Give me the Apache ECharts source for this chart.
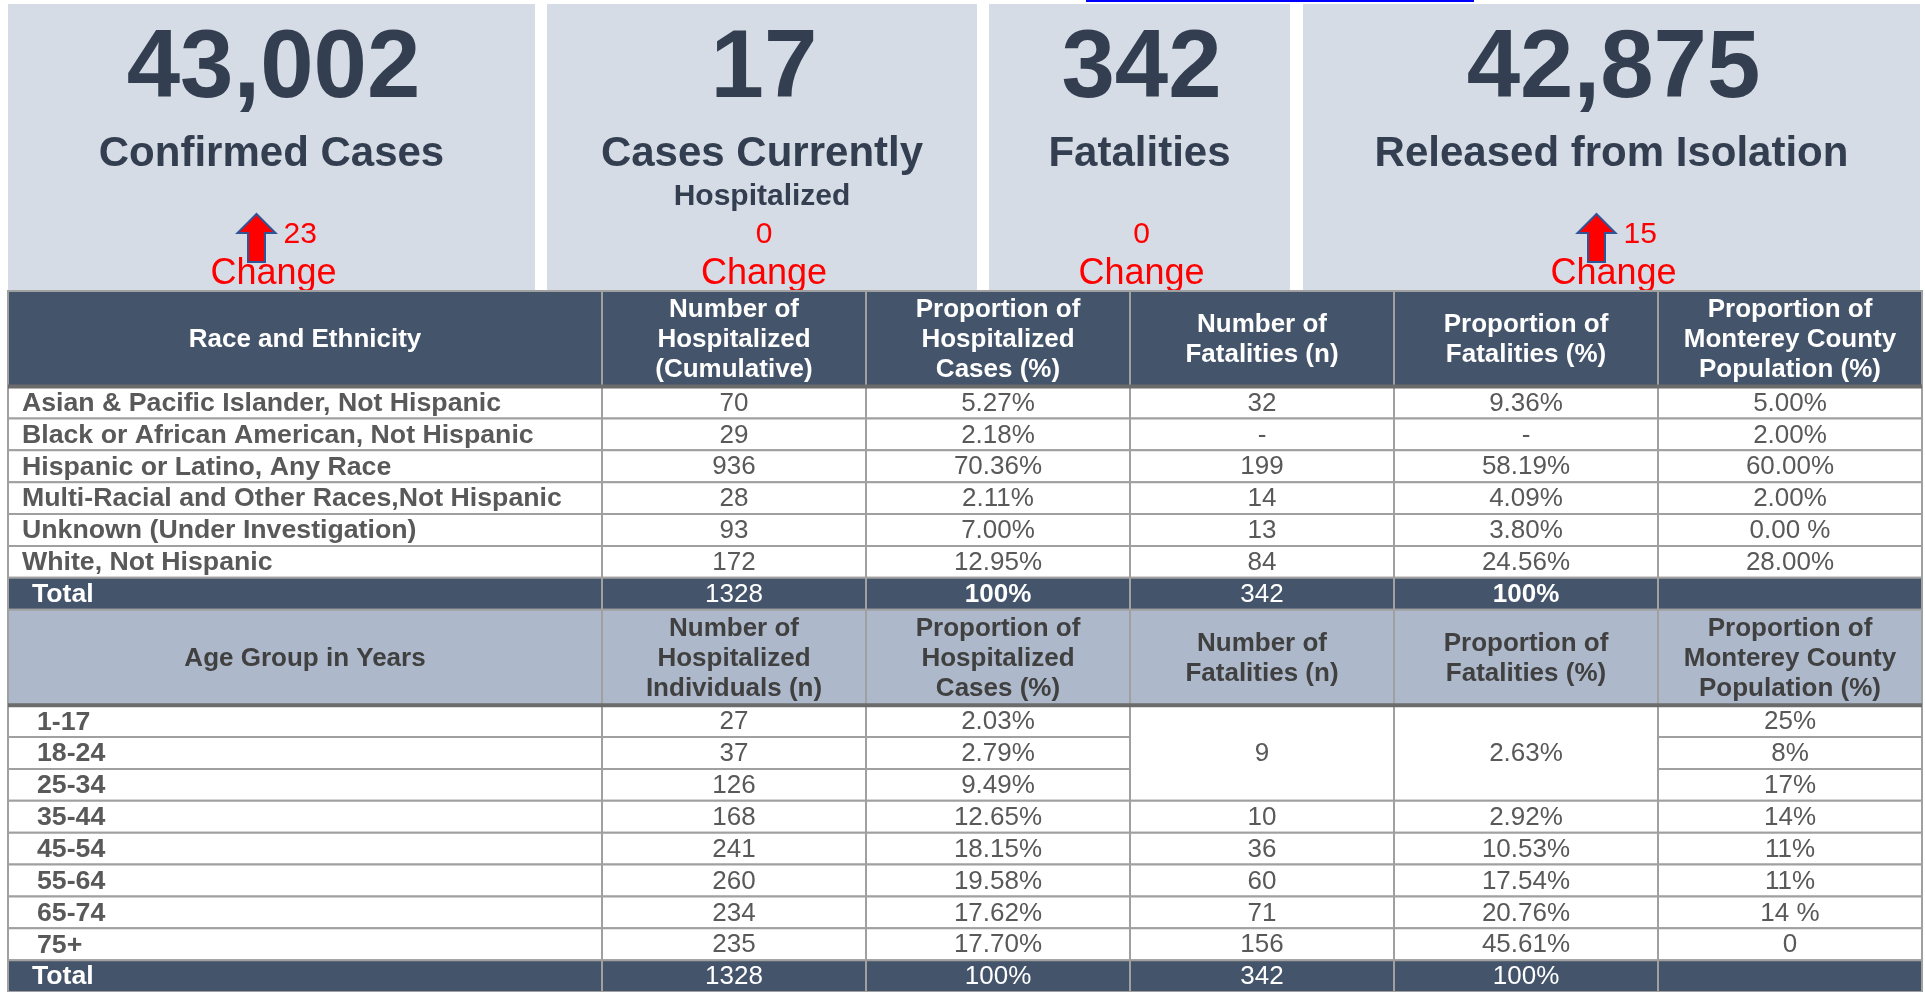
<!DOCTYPE html>
<html><head><meta charset="utf-8">
<script src="https://cdn.jsdelivr.net/npm/echarts@6/dist/echarts.min.js"></script>
<style>html,body{margin:0;padding:0;background:#fff;overflow:hidden}#c{width:1925px;height:992px;}</style>
</head><body><div id="c"></div>
<script>
// ---------- data ----------
const cardValues = ['43,002', '17', '342', '42,875'];
const cardTitles = ['Confirmed Cases', 'Cases Currently', 'Fatalities', 'Released from Isolation'];
const cardSubtitles = ['', 'Hospitalized', '', ''];
const cardChanges = [23, 0, 0, 15];
const cardChangeUp = [true, false, false, true];
const changeLabel = 'Change';

const raceHeaders = ['Race and Ethnicity', 'Number of\nHospitalized\n(Cumulative)', 'Proportion of\nHospitalized\nCases (%)', 'Number of\nFatalities (n)', 'Proportion of\nFatalities (%)', 'Proportion of\nMonterey County\nPopulation (%)'];
const raceCategories = ['Asian & Pacific Islander, Not Hispanic', 'Black or African American, Not Hispanic', 'Hispanic or Latino, Any Race', 'Multi-Racial and Other Races,Not Hispanic', 'Unknown (Under Investigation)', 'White, Not Hispanic'];
const raceHosp = ['70', '29', '936', '28', '93', '172'];
const raceHospPct = ['5.27%', '2.18%', '70.36%', '2.11%', '7.00%', '12.95%'];
const raceFat = ['32', '-', '199', '14', '13', '84'];
const raceFatPct = ['9.36%', '-', '58.19%', '4.09%', '3.80%', '24.56%'];
const racePopPct = ['5.00%', '2.00%', '60.00%', '2.00%', '0.00 %', '28.00%'];
const raceTotals = ['Total', '1328', '100%', '342', '100%', ''];

const ageHeaders = ['Age Group in Years', 'Number of\nHospitalized\nIndividuals (n)', 'Proportion of\nHospitalized\nCases (%)', 'Number of\nFatalities (n)', 'Proportion of\nFatalities (%)', 'Proportion of\nMonterey County\nPopulation (%)'];
const ageCategories = ['1-17', '18-24', '25-34', '35-44', '45-54', '55-64', '65-74', '75+'];
const ageHosp = ['27', '37', '126', '168', '241', '260', '234', '235'];
const ageHospPct = ['2.03%', '2.79%', '9.49%', '12.65%', '18.15%', '19.58%', '17.62%', '17.70%'];
const ageFat = ['9', null, null, '10', '36', '60', '71', '156'];
const ageFatPct = ['2.63%', null, null, '2.92%', '10.53%', '17.54%', '20.76%', '45.61%'];
const ageFatSpan = [3, 0, 0, 1, 1, 1, 1, 1];
const agePopPct = ['25%', '8%', '17%', '14%', '11%', '11%', '14 %', '0'];
const ageTotals = ['Total', '1328', '100%', '342', '100%', ''];

// ---------- layout ----------
const colEdges = [0, 2.25, 3.25, 4.25, 5.25, 6.25, 7.25];
const CARD_EDGES = [[8, 535], [547, 977], [989, 1290], [1303, 1920]];
const FONT = 'Liberation Sans, Arial, sans-serif';

const STYLES = {
  hdrDark:  {fill: '#44546a', color: '#ffffff', weight: 'bold', align: 'center', size: 26},
  hdrLight: {fill: '#adb9ca', color: '#404040', weight: 'bold', align: 'center', size: 26},
  label:    {fill: '#ffffff', color: '#595959', weight: 'bold', align: 'left', size: 26.7},
  num:      {fill: '#ffffff', color: '#595959', weight: 'normal', align: 'center', size: 26},
  totLabel: {fill: '#44546a', color: '#ffffff', weight: 'bold', align: 'left', size: 26.7},
  totNum:   {fill: '#44546a', color: '#ffffff', weight: 'normal', align: 'center', size: 26},
  totBold:  {fill: '#44546a', color: '#ffffff', weight: 'bold', align: 'center', size: 26}
};

const cells = [];
function cell(c0, c1, r0, r1, text, kind, pad) {
  cells.push({x0: colEdges[c0], x1: colEdges[c1], y0: r0, y1: r1, text: text, kind: kind, pad: pad || 0});
}
// race block
raceHeaders.forEach((t, j) => cell(j, j + 1, 0, 3, t, 'hdrDark'));
raceCategories.forEach((name, i) => {
  const r = 3 + i;
  cell(0, 1, r, r + 1, name, 'label', 14);
  [raceHosp, raceHospPct, raceFat, raceFatPct, racePopPct].forEach((arr, j) => cell(j + 1, j + 2, r, r + 1, arr[i], 'num'));
});
raceTotals.forEach((t, j) => cell(j, j + 1, 9, 10, t, j === 0 ? 'totLabel' : (j === 2 || j === 4 ? 'totBold' : 'totNum'), 24));
// age block
ageHeaders.forEach((t, j) => cell(j, j + 1, 10, 13, t, 'hdrLight'));
ageCategories.forEach((name, i) => {
  const r = 13 + i;
  cell(0, 1, r, r + 1, name, 'label', 29);
  cell(1, 2, r, r + 1, ageHosp[i], 'num');
  cell(2, 3, r, r + 1, ageHospPct[i], 'num');
  if (ageFatSpan[i] > 0) {
    cell(3, 4, r, r + ageFatSpan[i], ageFat[i], 'num');
    cell(4, 5, r, r + ageFatSpan[i], ageFatPct[i], 'num');
  }
  cell(5, 6, r, r + 1, agePopPct[i], 'num');
});
ageTotals.forEach((t, j) => cell(j, j + 1, 21, 22, t, j === 0 ? 'totLabel' : 'totNum', 24));
// heavy rules under headers
cells.push({x0: 0, x1: 7.25, y0: 3, y1: 3, kind: 'rule'});
cells.push({x0: 0, x1: 7.25, y0: 13, y1: 13, kind: 'rule'});

function renderCell(params, api) {
  const c = cells[params.dataIndex];
  const a = api.coord([c.x0, c.y0]);
  const b = api.coord([c.x1, c.y1]);
  if (c.kind === 'rule') {
    return {type: 'line', shape: {x1: a[0], y1: a[1], x2: b[0], y2: a[1]}, style: {stroke: '#6b6b6b', lineWidth: 4}};
  }
  const s = STYLES[c.kind];
  const x = a[0], y = a[1], w = b[0] - a[0], h = b[1] - a[1];
  const children = [{type: 'rect', shape: {x: x, y: y, width: w, height: h}, style: {fill: s.fill, stroke: '#a0a0a0', lineWidth: 2}}];
  if (c.text) {
    children.push({type: 'text', style: {
      text: c.text, x: s.align === 'left' ? x + c.pad : x + w / 2, y: y + h / 2 + 1,
      align: s.align, verticalAlign: 'middle', fontSize: s.size, fontWeight: s.weight,
      fontFamily: FONT, fill: s.color, lineHeight: 30
    }});
  }
  return {type: 'group', children: children};
}

function renderCard(params, api) {
  const i = params.dataIndex;
  const e = CARD_EDGES[i];
  const p0 = api.coord([e[0], 4]);
  const p1 = api.coord([e[1], 290]);
  const cx = (p0[0] + p1[0]) / 2;
  const Y = v => api.coord([0, v])[1];
  const ch = [];
  ch.push({type: 'rect', shape: {x: p0[0], y: p0[1], width: p1[0] - p0[0], height: p1[1] - p0[1]}, style: {fill: '#d6dce5'}});
  ch.push({type: 'text', style: {text: cardValues[i], x: cx + 2, y: Y(71), align: 'center', verticalAlign: 'middle', fontSize: 96, fontWeight: 'bold', fontFamily: FONT, fill: '#333f50'}});
  ch.push({type: 'text', style: {text: cardTitles[i], x: cx, y: Y(154), align: 'center', verticalAlign: 'middle', fontSize: 42, fontWeight: 'bold', fontFamily: FONT, fill: '#333f50'}});
  if (cardSubtitles[i]) {
    ch.push({type: 'text', style: {text: cardSubtitles[i], x: cx, y: Y(197), align: 'center', verticalAlign: 'middle', fontSize: 30, fontWeight: 'bold', fontFamily: FONT, fill: '#333f50'}});
  }
  if (cardChangeUp[i]) {
    const ax = cx - 15;
    const t = Y(214), hb = Y(233), bt = Y(262);
    ch.push({type: 'polygon', shape: {points: [[ax, t], [ax + 19, hb], [ax + 8.5, hb], [ax + 8.5, bt], [ax - 8.5, bt], [ax - 8.5, hb], [ax - 19, hb]]},
      style: {fill: '#ff0000', stroke: '#2f5597', lineWidth: 2}});
    ch.push({type: 'text', style: {text: String(cardChanges[i]), x: cx + 12, y: Y(235), align: 'left', verticalAlign: 'middle', fontSize: 30, fontFamily: FONT, fill: '#ff0000'}});
  } else {
    ch.push({type: 'text', style: {text: String(cardChanges[i]), x: cx + 2, y: Y(235), align: 'center', verticalAlign: 'middle', fontSize: 30, fontFamily: FONT, fill: '#ff0000'}});
  }
  ch.push({type: 'text', style: {text: changeLabel, x: cx + 2, y: Y(274), align: 'center', verticalAlign: 'middle', fontSize: 36, fontFamily: FONT, fill: '#ff0000'}});
  return {type: 'group', children: ch};
}

const chart = echarts.init(document.getElementById('c'), null, {renderer: 'canvas'});
chart.setOption({
  animation: false,
  backgroundColor: '#ffffff',
  grid: [
    {left: 8, top: 291, width: 1914, height: 704},
    {left: 0, top: 0, width: 1925, height: 291}
  ],
  xAxis: [
    {type: 'value', gridIndex: 0, min: 0, max: 7.25, show: false},
    {type: 'value', gridIndex: 1, min: 0, max: 1925, show: false}
  ],
  yAxis: [
    {type: 'value', gridIndex: 0, min: 0, max: 22, inverse: true, show: false},
    {type: 'value', gridIndex: 1, min: 0, max: 291, inverse: true, show: false}
  ],
  graphic: [{type: 'rect', left: 1086, top: 0, shape: {width: 388, height: 2}, style: {fill: '#0000ff'}}],
  series: [
    {type: 'custom', xAxisIndex: 1, yAxisIndex: 1, renderItem: renderCard, data: cardValues.map((v, i) => [i]), silent: true, clip: false},
    {type: 'custom', xAxisIndex: 0, yAxisIndex: 0, renderItem: renderCell, data: cells.map(c => [c.x0, c.y0, c.x1, c.y1]), silent: true, clip: false}
  ]
});
</script></body></html>
